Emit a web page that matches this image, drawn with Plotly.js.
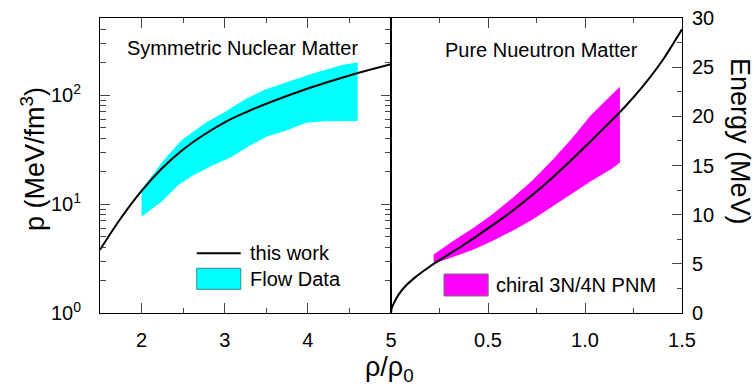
<!DOCTYPE html>
<html><head><meta charset="utf-8">
<script src="https://cdn.plot.ly/plotly-3.0.1.min.js"></script>
<style>html,body{margin:0;padding:0;background:#fff}</style>
</head><body><div id="chart" style="width:755px;height:388px"></div>
<script>
// Symmetric nuclear matter: pressure vs rho/rho0 (this work)
const snmRho = [1.5, 1.75, 2.0, 2.25, 2.5, 2.75, 3.0, 3.25, 3.5, 4.0, 4.5, 5.0];
const snmP   = [3.8, 7.4, 13.2, 21.4, 31.6, 43.2, 56.2, 69.2, 83.2, 114.8, 151.4, 191.9];
// Flow data band
const flowUpperRho = [2.0, 2.26, 2.48, 2.6, 2.76, 3.0, 3.24, 3.48, 3.76, 4.04, 4.4, 4.6];
const flowUpperP   = [13.5, 25, 38.5, 45, 55, 70, 91, 112, 133, 156, 188, 200];
const flowLowerRho = [2.0, 2.24, 2.44, 2.6, 2.84, 3.08, 3.28, 3.5, 3.76, 3.98, 4.2, 4.6];
const flowLowerP   = [7.7, 10.5, 14.9, 18, 22.3, 27, 33.6, 41.4, 47.7, 55.7, 57.5, 57.7];
// Pure neutron matter: energy vs rho/rho0 (this work)
const pnmRho = [0, 0.004, 0.015, 0.04, 0.075, 0.126, 0.177, 0.22, 0.317, 0.4, 0.485, 0.6, 0.7, 0.8, 0.9, 1.0, 1.1, 1.2, 1.3, 1.4, 1.5];
const pnmE   = [0, 0.5, 1.0, 1.9, 2.75, 3.65, 4.4, 5.0, 6.2, 7.25, 8.4, 10.0, 11.55, 13.2, 15.0, 16.9, 18.85, 20.85, 23.1, 25.7, 28.85];
// chiral 3N/4N PNM band
const chiralRho   = [0.22, 0.31, 0.42, 0.52, 0.62, 0.73, 0.83, 0.93, 1.03, 1.14, 1.18];
const chiralUpper = [5.95, 7.2, 8.6, 10.0, 11.6, 13.5, 15.5, 17.7, 20.1, 22.3, 23.0];
const chiralLower = [5.0, 5.6, 6.4, 7.3, 8.3, 9.5, 10.8, 12.1, 13.4, 14.7, 15.3];
// tick labels
const leftXTicks = [2, 3, 4, 5];
const leftYTicks = [1, 10, 100];
const leftYTickText = ['10<sup>0</sup>', '10<sup>1</sup>', '10<sup>2</sup>'];
const rightXTicks = [0.5, 1.0, 1.5];
const rightXTickText = ['0.5', '1.0', '1.5'];
const rightYTicks = [0, 5, 10, 15, 20, 25, 30];

const FONT = 'Liberation Sans, Arial, sans-serif';
const logMinor = [];
[1, 10, 100].forEach(d => { for (let k = 2; k <= 9; k++) { if (d * k <= 500) logMinor.push(d * k); } });

const traces = [
  {x: flowUpperRho.concat(flowLowerRho.slice().reverse()),
   y: flowUpperP.concat(flowLowerP.slice().reverse()),
   xaxis: 'x', yaxis: 'y', type: 'scatter', mode: 'lines', fill: 'toself',
   fillcolor: '#00FFFF', line: {width: 0, color: '#00FFFF'}, showlegend: false, hoverinfo: 'skip'},
  {x: snmRho, y: snmP, xaxis: 'x', yaxis: 'y', type: 'scatter', mode: 'lines',
   line: {color: '#000', width: 2, shape: 'spline', smoothing: 1}, showlegend: false},
  {x: chiralRho.concat(chiralRho.slice().reverse()),
   y: chiralUpper.concat(chiralLower.slice().reverse()),
   xaxis: 'x2', yaxis: 'y2', type: 'scatter', mode: 'lines', fill: 'toself',
   fillcolor: '#FF00FF', line: {width: 0, color: '#FF00FF'}, showlegend: false, hoverinfo: 'skip'},
  {x: pnmRho, y: pnmE, xaxis: 'x2', yaxis: 'y2', type: 'scatter', mode: 'lines',
   line: {color: '#000', width: 2, shape: 'spline', smoothing: 0.7}, showlegend: false}
];

const tickFont = {family: FONT, size: 20, color: '#000'};
const axBase = {showgrid: false, zeroline: false, showline: true, linecolor: '#000', linewidth: 1,
  ticks: 'inside', ticklen: 10, tickwidth: 1, tickcolor: '#444', tickfont: tickFont};

const layout = {
  width: 755, height: 388,
  margin: {l: 100, r: 73, t: 18, b: 75},
  paper_bgcolor: '#fff', plot_bgcolor: '#fff',
  showlegend: false,
  font: {family: FONT, color: '#000'},
  xaxis: Object.assign({}, axBase, {domain: [0, 0.5], range: [1.5, 5], anchor: 'y',
    tickmode: 'array', tickvals: leftXTicks, ticktext: leftXTicks.map(String), mirror: 'ticks',
    ticklabelstandoff: 9,
    minor: {tickmode: 'array', tickvals: [2.5, 3.5, 4.5], ticks: 'inside', ticklen: 5, tickcolor: '#444', showgrid: false}}),
  yaxis: Object.assign({}, axBase, {type: 'log', range: [0, 2.707], anchor: 'x',
    tickmode: 'array', tickvals: leftYTicks, ticktext: leftYTickText, mirror: 'ticks',
    ticklabelstandoff: 14,
    minor: {tickmode: 'array', tickvals: logMinor, ticks: 'inside', ticklen: 6, tickcolor: '#444', showgrid: false}}),
  xaxis2: Object.assign({}, axBase, {domain: [0.5, 1], range: [0, 1.5], anchor: 'y2',
    tickmode: 'array', tickvals: rightXTicks, ticktext: rightXTickText, mirror: 'ticks',
    ticklabelstandoff: 9,
    minor: {tickmode: 'array', tickvals: [0.25, 0.75, 1.25], ticks: 'inside', ticklen: 5, tickcolor: '#444', showgrid: false}}),
  yaxis2: Object.assign({}, axBase, {range: [0, 30], anchor: 'x2', side: 'right',
    tickmode: 'array', tickvals: rightYTicks, ticktext: rightYTicks.map(String), mirror: true,
    ticklabelstandoff: 5,
    minor: {tickmode: 'array', tickvals: [2.5, 7.5, 12.5, 17.5, 22.5, 27.5], ticks: 'inside', ticklen: 5, tickcolor: '#444', showgrid: false}}),
  shapes: [
    {type: 'line', xref: 'paper', yref: 'paper', x0: 0.1662, x1: 0.2418, y0: 0.2024, y1: 0.2024,
     line: {color: '#000', width: 2}},
    {type: 'rect', xref: 'paper', yref: 'paper', x0: 0.1662, x1: 0.2418, y0: 0.0803, y1: 0.1515,
     fillcolor: '#00FFFF', line: {color: '#2E8B8B', width: 1}},
    {type: 'rect', xref: 'paper', yref: 'paper', x0: 0.591, x1: 0.667, y0: 0.0576, y1: 0.1322,
     fillcolor: '#FF00FF', line: {color: '#777', width: 1}}
  ],
  annotations: [
    {text: 'Symmetric Nuclear Matter', xref: 'paper', yref: 'paper', x: 0.244, y: 0.898,
     xanchor: 'center', yanchor: 'middle', showarrow: false, font: {family: FONT, size: 20, color: '#000'}},
    {text: 'Pure Nueutron Matter', xref: 'paper', yref: 'paper', x: 0.758, y: 0.893,
     xanchor: 'center', yanchor: 'middle', showarrow: false, font: {family: FONT, size: 20, color: '#000'}},
    {text: 'this work', xref: 'paper', yref: 'paper', x: 0.2538, y: 0.2024,
     xanchor: 'left', yanchor: 'middle', showarrow: false, font: {family: FONT, size: 20, color: '#000'}},
    {text: 'Flow Data', xref: 'paper', yref: 'paper', x: 0.2538, y: 0.1159,
     xanchor: 'left', yanchor: 'middle', showarrow: false, font: {family: FONT, size: 20, color: '#000'}},
    {text: 'chiral 3N/4N PNM', xref: 'paper', yref: 'paper', x: 0.677, y: 0.0949,
     xanchor: 'left', yanchor: 'middle', showarrow: false, font: {family: FONT, size: 20, color: '#000'}},
    {text: 'p (MeV/fm<sup>3</sup>)', xref: 'paper', yref: 'paper', x: -0.115, y: 0.522,
     xanchor: 'center', yanchor: 'middle', textangle: -90, showarrow: false, font: {family: FONT, size: 27, color: '#000'}},
    {text: 'Energy (MeV)', xref: 'paper', yref: 'paper', x: 1.0997, y: 0.583,
     xanchor: 'center', yanchor: 'middle', textangle: 90, showarrow: false, font: {family: FONT, size: 27, color: '#000'}},
    {text: 'ρ/ρ<sub>0</sub>', xref: 'paper', yref: 'paper', x: 0.497, y: -0.19,
     xanchor: 'center', yanchor: 'middle', showarrow: false, font: {family: FONT, size: 27, color: '#000'}}
  ]
};

Plotly.newPlot('chart', traces, layout, {staticPlot: true, displayModeBar: false});
</script>
</body></html>
